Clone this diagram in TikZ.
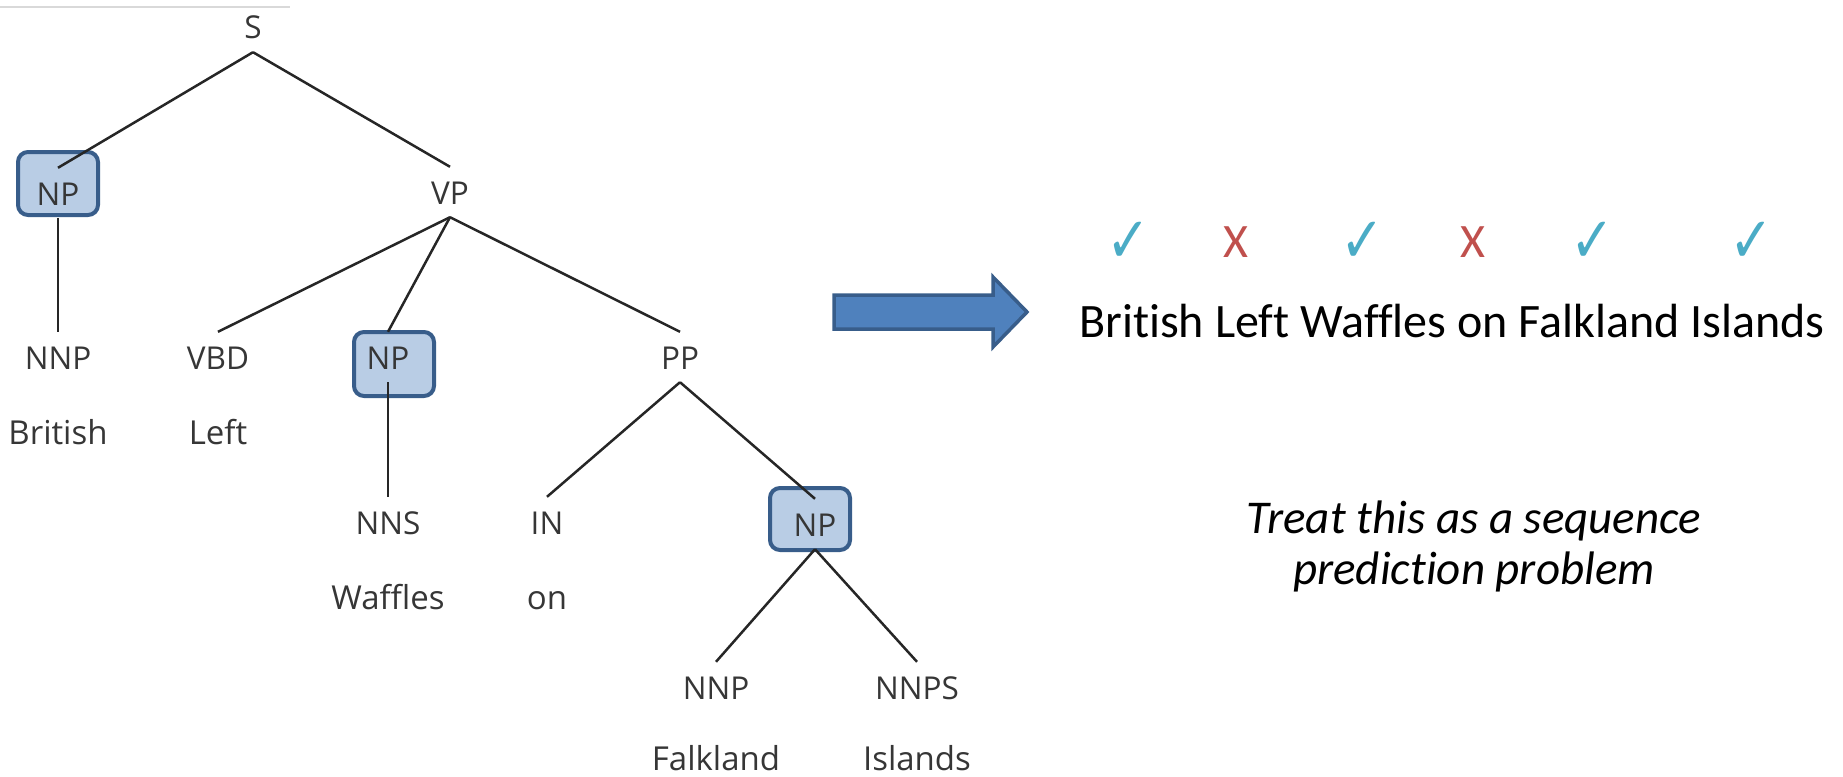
\documentclass[tikz,border=0pt]{standalone}
\usepackage{fontspec}
\newfontfamily\treefont{Open Sans}
\newfontfamily\slidefont[Ligatures=NoCommon]{Carlito}
\newfontfamily\symfont{DejaVu Sans}
\definecolor{tagtext}{HTML}{363636}
\definecolor{edgecol}{HTML}{262626}
\definecolor{boxfill}{HTML}{B9CDE5}
\definecolor{boxline}{HTML}{385D8A}
\definecolor{arrowfill}{HTML}{4F81BD}
\definecolor{okcol}{HTML}{4BACC6}
\definecolor{badcol}{HTML}{C0504D}
\definecolor{rulecol}{HTML}{D9D9D9}
\begin{document}
\begin{tikzpicture}[x=1pt,y=-1pt,
  tag/.style={anchor=base, inner sep=0pt, text height=37pt, text depth=13pt,
    font=\treefont\fontsize{31.5}{36}\selectfont, text=tagtext},
  word/.style={anchor=base, inner sep=0pt,
    font=\treefont\fontsize{33}{40}\selectfont, text=tagtext},
  npbox/.style={draw=boxline, fill=boxfill, line width=4pt,
    rounded corners=10pt, inner sep=0pt, minimum width=80pt},
  branch/.style={draw=edgecol, line width=2.5pt},
  slide/.style={anchor=base, inner sep=0pt, font=\slidefont\fontsize{48}{54}\selectfont},
  ok/.style={anchor=center, inner sep=0pt, text=okcol, xscale=0.82, transform shape,
    font=\symfont\fontsize{64}{70}\selectfont},
  bad/.style={slide, text=badcol}]
\useasboundingbox (0,0) rectangle (1843,776);

% thin rule along the top edge
\draw[rulecol, line width=2.5pt] (0,7) -- (290,7);

% highlighted noun phrases
\node[npbox, minimum height=63pt] (box1) at (58,183.5) {};
\node[npbox, minimum height=64pt] (box2) at (394,364) {};
\node[npbox, minimum height=62pt] (box3) at (810,519) {};

% constituent labels
\node[tag] (s)    at (253,39)  {S};
\node[tag] (np1)  at (58,205)  {NP};
\node[tag] (vp)   at (450,204) {VP};
\node[tag] (nnp1) at (58,369)  {NNP};
\node[tag] (vbd)  at (218,369) {VBD};
\node[tag] (np2)  at (388,369) {NP};
\node[tag] (pp)   at (680,369) {PP};
\node[tag] (nns)  at (388,534) {NNS};
\node[tag] (in)   at (547,534) {IN};
\node[tag] (np3)  at (815,536) {NP};
\node[tag] (nnp2) at (716,699) {NNP};
\node[tag] (nnps) at (917,699) {NNPS};

% leaf words
\node[word] (w1) at (58,444)  {British};
\node[word] (w2) at (218,444) {Left};
\node[word] (w3) at (388,609) {Waffles};
\node[word] (w4) at (547,609) {on};
\node[word] (w5) at (716,770) {Falkland};
\node[word] (w6) at (917,770) {Islands};

% tree branches
\draw[branch] (s.south) -- (np1.north);
\draw[branch] (s.south) -- (vp.north);
\draw[branch] (np1.south) -- (nnp1.north);
\draw[branch] (vp.south) -- (vbd.north);
\draw[branch] (vp.south) -- (np2.north);
\draw[branch] (vp.south) -- (pp.north);
\draw[branch] (np2.south) -- (nns.north);
\draw[branch] (pp.south) -- (in.north);
\draw[branch] (pp.south) -- (np3.north);
\draw[branch] (np3.south) -- (nnp2.north);
\draw[branch] (np3.south) -- (nnps.north);

% block arrow
\draw[fill=arrowfill, draw=boxline, line width=3.5pt, line join=miter]
  (834,295) -- (993,295) -- (993,277) -- (1027,312) -- (993,347)
  -- (993,329) -- (834,329) -- cycle;

% flat sequence with per-word marks
\node[slide] (sent) at (1452,337) {British Left Waffles on Falkland Islands};
\node[ok]  (m1) at (1128,242) {✓};
\node[bad] (m2) at (1236,257) {X};
\node[ok]  (m3) at (1362,242) {✓};
\node[bad] (m4) at (1473,257) {X};
\node[ok]  (m5) at (1592,242) {✓};
\node[ok]  (m6) at (1751,242) {✓};

% remark
\node[slide, font=\slidefont\itshape\fontsize{47}{52}\selectfont] (t1) at (1474,533) {Treat this as a sequence};
\node[slide, font=\slidefont\itshape\fontsize{47}{52}\selectfont] (t2) at (1474,584) {prediction problem};
\end{tikzpicture}
\end{document}
